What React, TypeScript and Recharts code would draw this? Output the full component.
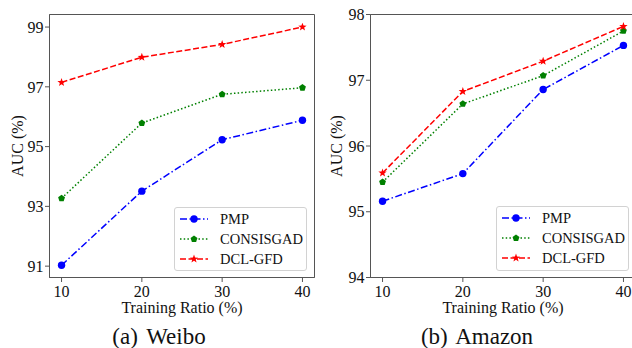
import * as React from 'react';
import { LineChart, Line, XAxis, YAxis, ReferenceArea, Label } from 'recharts';

// training ratio (%) on the x axis
const ratios = [10, 20, 30, 40];
const xTicks = [10, 20, 30, 40];

// (a) Weibo
const weiboPMP = [91.03, 93.51, 95.23, 95.88];
const weiboConsis = [93.27, 95.79, 96.75, 96.97];
const weiboDCL = [97.15, 97.99, 98.42, 99.0];
const weiboTicks = [91, 93, 95, 97, 99];

// (b) Amazon
const amazonPMP = [95.16, 95.58, 96.86, 97.53];
const amazonConsis = [95.45, 96.64, 97.07, 97.75];
const amazonDCL = [95.59, 96.83, 97.29, 97.82];
const amazonTicks = [94, 95, 96, 97, 98];

const seriesNames = ['PMP', 'CONSISGAD', 'DCL-GFD'];

const series = [
  { key: 'pmp', name: seriesNames[0], color: '#0000ff', dash: '7 2.5 1.5 2.5', marker: 'circle' },
  { key: 'consis', name: seriesNames[1], color: '#008000', dash: '1.5 2.2', marker: 'pentagon' },
  { key: 'dcl', name: seriesNames[2], color: '#ff0000', dash: '6 2.5', marker: 'star' },
];

const FONT = '"Liberation Serif", "Times New Roman", serif';
const FRAME = '#555';

const buildData = (a: number[], b: number[], c: number[]) =>
  ratios.map((r, i) => ({ ratio: r, pmp: a[i], consis: b[i], dcl: c[i] }));

const weiboData = buildData(weiboPMP, weiboConsis, weiboDCL);
const amazonData = buildData(amazonPMP, amazonConsis, amazonDCL);

const polygon = (cx: number, cy: number, n: number, rOut: number, rIn?: number) => {
  const pts: string[] = [];
  const count = rIn ? n * 2 : n;
  for (let i = 0; i < count; i++) {
    const r = rIn && i % 2 === 1 ? rIn : rOut;
    const a = -Math.PI / 2 + (i * 2 * Math.PI) / count;
    pts.push(`${cx + r * Math.cos(a)},${cy + r * Math.sin(a)}`);
  }
  return pts.join(' ');
};

const Marker = ({ cx, cy, type, color }: { cx: number; cy: number; type: string; color: string }) => {
  if (cx == null || cy == null) return null;
  if (type === 'circle') return <circle cx={cx} cy={cy} r={3.7} fill={color} />;
  if (type === 'pentagon') return <polygon points={polygon(cx, cy, 5, 3.6)} fill={color} />;
  return <polygon points={polygon(cx, cy, 5, 4.4, 1.8)} fill={color} />;
};

const xTitle = (props: any) => {
  const vb = props.viewBox || {};
  const x = (vb.x ?? 0) + (vb.width ?? 0) / 2;
  const y = (vb.y ?? 277.5) + 35;
  return (
    <text x={x} y={y} textAnchor="middle" fontSize={16} fill="#111">
      Training Ratio (%)
    </text>
  );
};

const makeYTitle = (baseX: number) => (props: any) => {
  const vb = props.viewBox || {};
  const y = (vb.y ?? 14.5) + (vb.height ?? 263) / 2;
  return (
    <text x={baseX} y={y} transform={`rotate(-90 ${baseX} ${y})`} textAnchor="middle" fontSize={16} fill="#111">
      AUC (%)
    </text>
  );
};

interface PanelProps {
  left: number;
  data: typeof weiboData;
  domain: [number, number];
  ticks: number[];
  yAxisWidth: number;
  rightMargin: number;
  yTitleX: number;
}

const Panel: React.FC<PanelProps> = ({ left, data, domain, ticks, yAxisWidth, rightMargin, yTitleX }) => (
  <div style={{ position: 'absolute', left, top: 0 }}>
    <LineChart width={320} height={348} data={data} margin={{ top: 14.5, right: rightMargin, bottom: 0, left: 0 }}>
      <XAxis
        dataKey="ratio"
        type="number"
        domain={[8.5, 41.5]}
        ticks={xTicks}
        allowDataOverflow
        height={70.5}
        stroke={FRAME}
        tickSize={4.5}
        tickMargin={3.5}
        tick={{ fontSize: 16, fill: '#111' }}
      >
        <Label content={xTitle} />
      </XAxis>
      <YAxis
        type="number"
        domain={domain}
        ticks={ticks}
        allowDataOverflow
        width={yAxisWidth}
        stroke={FRAME}
        tickSize={4.5}
        tickMargin={1.5}
        tick={{ fontSize: 16, fill: '#111' }}
      >
        <Label content={makeYTitle(yTitleX)} />
      </YAxis>
      <ReferenceArea
        x1={8.5}
        x2={41.5}
        y1={domain[0]}
        y2={domain[1]}
        fill="none"
        fillOpacity={0}
        stroke={FRAME}
        strokeWidth={1}
      />
      {series.map((s) => (
        <Line
          key={s.key}
          dataKey={s.key}
          stroke={s.color}
          strokeWidth={1.5}
          strokeDasharray={s.dash}
          isAnimationActive={false}
          activeDot={false}
          dot={(p: any) => <Marker key={`${s.key}-${p.index}`} cx={p.cx} cy={p.cy} type={s.marker} color={s.color} />}
        />
      ))}
    </LineChart>
  </div>
);

const LegendBox: React.FC<{ left: number; top: number }> = ({ left, top }) => (
  <div
    style={{
      position: 'absolute',
      left,
      top,
      width: 133,
      height: 64.5,
      boxSizing: 'border-box',
      border: '1px solid #d2d2d2',
      borderRadius: 3,
      background: 'rgba(255,255,255,0.85)',
      paddingTop: 1,
    }}
  >
    {series.map((s) => (
      <div key={s.key} style={{ height: 20, display: 'flex', alignItems: 'center' }}>
        <svg width={40} height={20} style={{ display: 'block', flex: 'none' }}>
          <line x1={5} x2={33} y1={10} y2={10} stroke={s.color} strokeWidth={1.5} strokeDasharray={s.dash} />
          <Marker cx={19} cy={10} type={s.marker} color={s.color} />
        </svg>
        <span style={{ fontSize: 14.5, marginLeft: 5, color: '#111', lineHeight: '20px' }}>{s.name}</span>
      </div>
    ))}
  </div>
);

const captionStyle: React.CSSProperties = {
  position: 'absolute',
  top: 325,
  width: 200,
  textAlign: 'center',
  fontSize: 23,
  lineHeight: '23px',
  wordSpacing: 3,
  color: '#111',
  whiteSpace: 'nowrap',
};

export default function App() {
  return (
    <div
      style={{
        position: 'absolute',
        left: 0,
        top: 0,
        width: 632,
        height: 348,
        overflow: 'hidden',
        background: '#fff',
        fontFamily: FONT,
      }}
    >
      <Panel left={0} data={weiboData} domain={[90.62, 99.42]} ticks={weiboTicks} yAxisWidth={49.5} rightMargin={5.5} yTitleX={22.5} />
      <Panel left={316} data={amazonData} domain={[94, 98]} ticks={amazonTicks} yAxisWidth={54.5} rightMargin={0.5} yTitleX={25.5} />
      <LegendBox left={174} top={206.5} />
      <LegendBox left={496} top={206} />
      <div style={{ ...captionStyle, left: 159 - 100 }}>(a) Weibo</div>
      <div style={{ ...captionStyle, left: 477 - 100 }}>(b) Amazon</div>
    </div>
  );
}
